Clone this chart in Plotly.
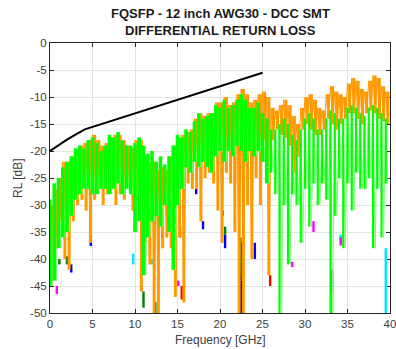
import numpy as np
import plotly.graph_objects as go

# ---------------- data ----------------
title_lines = ["FQSFP - 12 inch AWG30 - DCC SMT", "DIFFERENTIAL RETURN LOSS"]
x_label = "Frequency [GHz]"
y_label = "RL [dB]"
x_ticks = [0, 5, 10, 15, 20, 25, 30, 35, 40]
y_ticks = [0, -5, -10, -15, -20, -25, -30, -35, -40, -45, -50]
y_tick_labels = ["0", "-5", "-10", "-15", "-20", "-25", "-30", "-35", "-40", "-45", "-50"]

# measurement grid: local maxima every 0.5 GHz, local minima in between
peak_freq = np.arange(0.0, 40.0, 0.5)
trough_freq = peak_freq + 0.25

green_peaks = [
    -29, -26, -25, -23, -22, -21, -19.5, -19, -19.5, -18,
    -17.5, -18.5, -20, -19, -17, -17.5, -16.5, -18, -19, -19,
    -18.5, -17.5, -19, -20.5, -20, -22, -21, -22.5, -21, -19,
    -17, -17.5, -16, -16.5, -14.5, -13, -14, -13.5, -13, -11.5,
    -12, -10.5, -12, -11.5, -10.5, -9.5, -10.5, -12, -12, -11,
    -13, -14, -16, -16, -15, -14, -15, -17, -18, -16,
    -14, -13, -14, -16, -16, -14, -12.5, -13, -14, -14,
    -12, -11.5, -12, -13, -13.5, -12, -11.5, -12, -13, -14,
]
green_troughs = [
    -45, -44, -38, -36, -35, -32, -29, -28, -27, -27,
    -28, -28, -27, -27, -28, -27, -26, -28, -27, -28,
    -35, -33, -43, -36, -33, -32, -34, -30, -35, -42,
    -30, -27, -23, -24, -22, -23, -22, -23, -24, -21,
    -20, -22, -20, -21, -19, -20, -22, -20, -21, -20,
    -22, -26, -24, -28, -50, -30, -41, -28, -30, -37,
    -27, -34, -26, -30, -26, -29, -50, -32, -25, -38,
    -26, -31, -24, -27, -27, -25, -38, -27, -36, -26,
]
orange_peaks = [
    -30, -27, -25, -22, -22, -21, -20, -19, -18.5, -18,
    -17, -18, -19, -18.5, -17.5, -17, -17, -18, -19, -19.5,
    -18, -18, -21, -22, -22, -23.5, -23, -23.5, -21, -19,
    -17.5, -17, -16.5, -16, -14, -13, -13.5, -13, -13, -11,
    -11, -10, -11.5, -11, -9.5, -8.5, -9.5, -11, -10.5, -9.5,
    -9, -10, -12, -12.5, -11.5, -10.5, -11.5, -13.5, -15, -12,
    -10, -9.5, -10.5, -12, -12.5, -9.5, -8, -9, -9.5, -10,
    -7.5, -6.5, -7, -8.5, -9, -7, -6, -6.5, -8, -9,
]
orange_troughs = [
    -44, -38, -33, -40, -42, -33, -30, -29, -31, -37,
    -29, -27, -30, -28, -27, -30, -28, -29, -27, -31,
    -33, -46, -37, -41, -50, -51, -38, -36, -38, -47,
    -36, -48, -26, -27, -27, -33, -25, -24, -26, -31,
    -37, -24, -26, -35, -50, -51, -30, -40, -25, -30,
    -18, -43, -18, -16, -17, -17.5, -19, -24, -21, -16,
    -15, -16, -17, -17, -16, -14, -15, -16, -15, -14,
    -13, -13, -14, -15, -13, -12.5, -13, -14, -14.5, -15,
]

# coloured tips of the deepest notches of the other lanes: (freq, upper, lower)
blue_f = [2.5, 4.8, 10.0, 17.2, 18.0, 20.3, 20.6, 22.4, 22.6, 24.1, 13.2]
blue_top = [-41, -36.8, -30, -27, -33, -31, -35.5, -43, -44, -37, -35]
blue_bot = [-42.5, -37.6, -31, -28, -34.5, -32, -38, -50, -50, -40, -36]
dkgreen_f = [2.0, 4.8, 11.0, 12.4, 15.3, 20.6, 22.4, 22.6, 1.1]
dkgreen_top = [-39.5, -35.8, -46, -48, -34, -34, -36, -37, -40]
dkgreen_bot = [-41, -36.8, -49, -50, -36, -35.5, -43, -44, -41]
red_f = [15.5, 25.9, 10.9]
red_top = [-45, -43, -29]
red_bot = [-47.5, -45, -30]
cyan_f = [9.8, 33.2, 34.2, 39.5, 12.0, 13.0]
cyan_top = [-39, -46, -35.5, -38, -40, -32]
cyan_bot = [-41, -50, -37, -50, -41, -33]
magenta_f = [0.8, 28.5, 31.0, 33.2, 34.2, 15.1]
magenta_top = [-45, -40.5, -33, -42, -36, -44]
magenta_bot = [-46.5, -41.5, -35, -46, -37.5, -45]

limit_freq = [0, 1, 2, 3, 4.1, 25]
limit_rl = [-20, -18.9, -17.9, -16.95, -16, -5.5]

dense_end_ghz = 26.0  # below this the ripples of all lanes merge into a solid band

FONT = "Liberation Sans, Arial, Helvetica"

# ---------------- figure ----------------
fig = go.Figure()


def segments(fs, tops, bots, color, width, fmin=-1.0, fmax=99.0):
    xs, ys = [], []
    for f, t, b in zip(fs, tops, bots):
        if fmin <= f < fmax:
            xs += [f, f, None]
            ys += [t, b, None]
    fig.add_trace(go.Scatter(x=xs, y=ys, mode="lines",
                             line=dict(color=color, width=width),
                             hoverinfo="skip", showlegend=False))


def zigzag(p_f, p_v, t_f, t_v, color, width):
    xs, ys = [], []
    for a, b, c, d in zip(p_f, p_v, t_f, t_v):
        xs += [a, c]
        ys += [b, d]
    fig.add_trace(go.Scatter(x=xs, y=ys, mode="lines",
                             line=dict(color=color, width=width),
                             hoverinfo="skip", showlegend=False))


segments(blue_f, blue_top, blue_bot, "#0000FF", 2.4)
segments(dkgreen_f, dkgreen_top, dkgreen_bot, "#008000", 2.4)
segments(red_f, red_top, red_bot, "#FF0000", 2.4)
segments(cyan_f, cyan_top, cyan_bot, "#00E5FF", 2.4)
segments(magenta_f, magenta_top, magenta_bot, "#FF00FF", 2.4)

segments(trough_freq, orange_peaks, orange_troughs, "#FF9900", 3.0)
zigzag(peak_freq, orange_peaks, trough_freq, orange_troughs, "#FF9900", 1.0)

zigzag(peak_freq, green_peaks, trough_freq, green_troughs, "#7CFF7C", 1.0)
segments(peak_freq, green_peaks, green_troughs, "#00FF00", 3.6, fmax=dense_end_ghz)
segments(peak_freq, green_peaks, green_troughs, "#00FF00", 2.2, fmin=dense_end_ghz)

fig.add_trace(go.Scatter(x=limit_freq, y=limit_rl, mode="lines",
                         line=dict(color="#000000", width=2),
                         hoverinfo="skip", showlegend=False))

axis_common = dict(
    showgrid=True, gridcolor="#E3E3E3", gridwidth=1,
    showline=True, linecolor="#262626", linewidth=1,
    mirror="ticks", ticks="inside", ticklen=4, tickcolor="#262626",
    zeroline=False, automargin=False, layer="below traces",
    ticklabeloverflow="allow",
    tickfont=dict(family=FONT, size=11.5, color="#404040"),
)

annotations = [
    dict(text="<b>" + title_lines[0] + "</b>", x=0.5, y=1.111),
    dict(text="<b>" + title_lines[1] + "</b>", x=0.5, y=1.0445),
]
for a in annotations:
    a.update(xref="paper", yref="paper", xanchor="center", yanchor="middle",
             showarrow=False, font=dict(family=FONT, size=13, color="#1a1a1a"))
annotations.append(dict(text=x_label, x=0.5, y=-0.1, xref="paper", yref="paper",
                        xanchor="center", yanchor="middle", showarrow=False,
                        font=dict(family=FONT, size=12, color="#404040")))
annotations.append(dict(text=y_label, x=-0.094, y=0.5, xref="paper", yref="paper",
                        xanchor="center", yanchor="middle", showarrow=False, textangle=-90,
                        font=dict(family=FONT, size=12, color="#404040")))

fig.update_layout(
    width=396, height=349,
    margin=dict(l=50, r=6, t=43, b=36, autoexpand=False),
    paper_bgcolor="white", plot_bgcolor="white",
    annotations=annotations,
    xaxis=dict(range=[0, 40], tickvals=x_ticks, **axis_common),
    yaxis=dict(range=[-50, 0], tickvals=y_ticks, ticktext=y_tick_labels, **axis_common),
)

fig.write_html("out.html", config={"displayModeBar": False},
               post_script="document.body.style.margin='0';")
